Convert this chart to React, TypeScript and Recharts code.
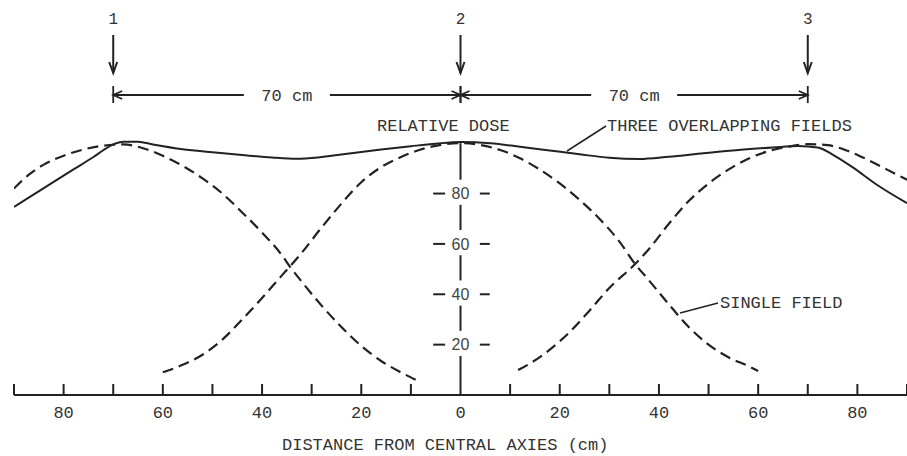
import { LineChart, Line, XAxis, YAxis, ReferenceLine, ReferenceDot } from "recharts";

// distance from central axis (cm) vs relative dose (%)
const X_TICKS = [-90, -80, -70, -60, -50, -40, -30, -20, -10, 0, 10, 20, 30, 40, 50, 60, 70, 80, 90];
const X_LABELS = [-80, -60, -40, -20, 0, 20, 40, 60, 80];
const DOSE_TICKS = [20, 40, 60, 80];
const FIELD_CENTERS = [-70, 0, 70];

const leftField: [number, number][] = [
  [-90, 82], [-87, 87.5], [-84, 91.5], [-80, 95], [-76, 97.5], [-72, 99], [-68, 99.5],
  [-64, 98], [-60, 95], [-56, 91], [-52, 86], [-48, 80], [-44, 72.5], [-40, 64.5],
  [-36, 55.5], [-34.4, 51], [-32, 45], [-28, 35.5], [-24, 27], [-20, 19.5], [-16, 13.5],
  [-12, 9], [-9, 6],
];

const centerField: [number, number][] = [
  [-60, 9], [-56, 12], [-52, 16], [-48, 22], [-44, 30], [-40, 38.5], [-36, 47.5], [-34.4, 51],
  [-32, 56.5], [-28, 66.5], [-24, 76], [-20, 84.5], [-16, 90.5], [-12, 94.5], [-8, 97.5],
  [-4, 99.3], [0, 100], [4, 99.3], [8, 97.3], [12, 94], [16, 89.5], [20, 84], [24, 77.5],
  [28, 70], [32, 61], [35.2, 52], [38, 45.5], [42, 36], [46, 27], [50, 20], [54, 15],
  [58, 11.5], [60, 9.5],
];

const rightField: [number, number][] = [
  [11.6, 9.9], [14, 12.5], [18, 18], [22, 25], [26, 33.5], [30, 42.5], [35.2, 52], [38, 58],
  [42, 68], [46, 77], [50, 84], [54, 89.5], [58, 93.8], [62, 96.8], [66, 98.6], [70, 99.6],
  [74, 99.2], [78, 97], [82, 93.5], [86, 89.5], [90, 85.5],
];

const threeFields: [number, number][] = [
  [-90, 74.7], [-86, 79.7], [-82, 84.6], [-78, 89.6], [-74, 94.5], [-72, 97.2], [-70, 99.5],
  [-68, 100.6], [-65, 100.6], [-62, 99.5], [-56, 97.6], [-50, 96.4], [-44, 95.3], [-38, 94.3],
  [-33, 93.8], [-28, 94.5], [-22, 96], [-16, 97.5], [-10, 98.8], [-5, 99.8], [0, 100.5], [6, 100],
  [12, 98.6], [18, 97.1], [24, 95.6], [30, 94.2], [36, 93.7], [42, 94.6], [49, 96],
  [56, 97.3], [63, 98.3], [68, 98.9], [72, 98.3], [75, 95.5], [79, 90.5], [84, 83.4], [90, 76.2],
];

const W = 907;
const H = 456;
const MARGIN = { top: 118, right: 0, bottom: 31, left: 14 };
const X_MIN = -90;
const X_MAX = 90;
const PLOT_W = W - MARGIN.left - MARGIN.right;
const INK = "#222";
const MONO = "'Liberation Mono', 'DejaVu Sans Mono', monospace";

const toRows = (pts: [number, number][]) => pts.map(([x, y]) => ({ x, y }));
const px = (cm: number) => MARGIN.left + ((cm - X_MIN) / (X_MAX - X_MIN)) * PLOT_W;

// vertical dose axis: pieces of line between the labels
const GAP_OVER_LABEL = 5.5;
const GAP_UNDER_LABEL = 4.5;
const axisPieces = [0, ...DOSE_TICKS].map((lo, i, arr) => {
  const hi = i + 1 < arr.length ? arr[i + 1] : 100;
  return [lo === 0 ? 0 : lo + GAP_OVER_LABEL, hi === 100 ? 100 : hi - GAP_UNDER_LABEL];
});

function DistTick(props: any) {
  const { x, y, payload } = props;
  const v = payload.value as number;
  return (
    <g>
      {v !== 0 && <line x1={x} x2={x} y1={y} y2={y - 11} stroke={INK} strokeWidth={2} />}
      {X_LABELS.includes(v) && (
        <text x={x} y={y + 23} textAnchor="middle" fontFamily={MONO} fontSize={17} fill="#333">
          {Math.abs(v)}
        </text>
      )}
    </g>
  );
}

function DownArrow({ x, label }: { x: number; label: string }) {
  return (
    <g>
      <text x={x} y={24} textAnchor="middle" fontFamily={MONO} fontSize={16} fill="#333">{label}</text>
      <line x1={x} x2={x} y1={35} y2={73} stroke={INK} strokeWidth={2} />
      <polyline points={`${x - 4},${62} ${x},${73} ${x + 4},${62}`} fill="none" stroke={INK} strokeWidth={2} />
    </g>
  );
}

function Dimension({ from, to }: { from: number; to: number }) {
  const y = 95;
  const mid = (from + to) / 2;
  const gap = 40;
  return (
    <g stroke={INK} strokeWidth={1.8} fill="none">
      <line x1={from} x2={from} y1={86} y2={103} />
      <line x1={to} x2={to} y1={86} y2={103} />
      <line x1={from} x2={mid - gap - 3} y1={y} y2={y} />
      <line x1={mid + gap + 3} x2={to} y1={y} y2={y} />
      <polyline points={`${from + 9},${y - 4} ${from},${y} ${from + 9},${y + 4}`} />
      <polyline points={`${to - 9},${y - 4} ${to},${y} ${to - 9},${y + 4}`} />
      <text x={mid} y={101} textAnchor="middle" fontFamily={MONO} fontSize={17} fill="#333" stroke="none">
        70 cm
      </text>
    </g>
  );
}

export default function App() {
  const [c1, c2, c3] = FIELD_CENTERS.map(px);
  return (
    <div style={{ position: "absolute", left: 0, top: 0, width: W, height: H, background: "#fff" }}>
      <LineChart width={W} height={H} margin={MARGIN}>
        <XAxis
          type="number"
          dataKey="x"
          domain={[X_MIN, X_MAX]}
          ticks={X_TICKS}
          interval={0}
          allowDataOverflow
          axisLine={{ stroke: INK, strokeWidth: 2 }}
          tickLine={false}
          tickSize={0}
          tickMargin={0}
          tick={<DistTick />}
        />
        <YAxis type="number" dataKey="y" domain={[0, 110]} hide />
        {axisPieces.map(([a, b]) => (
          <ReferenceLine
            key={`ax${a}`}
            segment={[{ x: 0, y: a }, { x: 0, y: b }]}
            stroke={INK}
            strokeWidth={2}
          />
        ))}
        {DOSE_TICKS.map((v) => (
          <ReferenceLine key={`l${v}`} segment={[{ x: -5.5, y: v }, { x: -3.1, y: v }]} stroke={INK} strokeWidth={2} />
        ))}
        {DOSE_TICKS.map((v) => (
          <ReferenceLine key={`r${v}`} segment={[{ x: 3.9, y: v }, { x: 5.9, y: v }]} stroke={INK} strokeWidth={2} />
        ))}
        {DOSE_TICKS.map((v) => (
          <ReferenceDot
            key={`d${v}`}
            x={0}
            y={v}
            r={0}
            stroke="none"
            label={{
              value: String(v),
              position: "center",
              fill: "#444",
              fontSize: 16,
              fontFamily: "'Liberation Sans', Arial, sans-serif",
            }}
          />
        ))}
        <Line data={toRows(leftField)} dataKey="y" type="monotone" stroke={INK} strokeWidth={2.2}
          strokeDasharray="11 6" dot={false} activeDot={false} isAnimationActive={false} />
        <Line data={toRows(centerField)} dataKey="y" type="monotone" stroke={INK} strokeWidth={2.2}
          strokeDasharray="11 6" dot={false} activeDot={false} isAnimationActive={false} />
        <Line data={toRows(rightField)} dataKey="y" type="monotone" stroke={INK} strokeWidth={2.2}
          strokeDasharray="11 6" dot={false} activeDot={false} isAnimationActive={false} />
        <Line data={toRows(threeFields)} dataKey="y" type="monotone" stroke={INK} strokeWidth={2}
          dot={false} activeDot={false} isAnimationActive={false} />
      </LineChart>
      <svg width={W} height={H} style={{ position: "absolute", left: 0, top: 0, pointerEvents: "none" }}>
        <DownArrow x={c1} label="1" />
        <DownArrow x={c2} label="2" />
        <DownArrow x={c3} label="3" />
        <Dimension from={c1} to={c2} />
        <Dimension from={c2} to={c3} />
        <text x={377} y={131} fontFamily={MONO} fontSize={17} fill="#333">RELATIVE DOSE</text>
        <text x={607} y={131} fontFamily={MONO} fontSize={17} fill="#333">THREE OVERLAPPING FIELDS</text>
        <line x1={567} y1={151} x2={606} y2={126} stroke={INK} strokeWidth={1.5} />
        <text x={720} y={308} fontFamily={MONO} fontSize={17} fill="#333">SINGLE FIELD</text>
        <line x1={680} y1={313} x2={718} y2={303} stroke={INK} strokeWidth={1.5} />
        <text x={282} y={450} fontFamily={MONO} fontSize={17} fill="#333">DISTANCE FROM CENTRAL AXIES (cm)</text>
      </svg>
    </div>
  );
}
